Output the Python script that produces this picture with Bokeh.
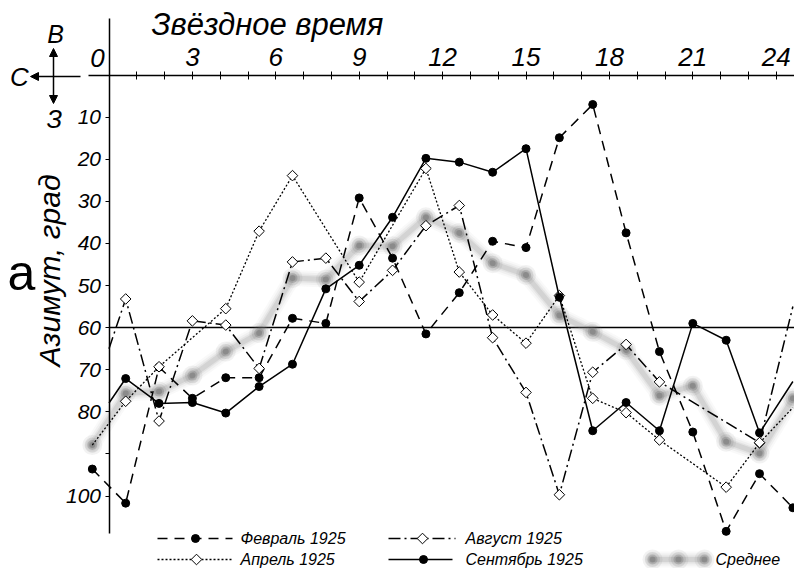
import numpy as np
from bokeh.plotting import figure
from bokeh.models import Range1d, LinearAxis, FixedTicker, Arrow, NormalHead
from bokeh.core.properties import value
from bokeh.embed import file_html
from bokeh.resources import INLINE

# ---------------- data ----------------
TIME = [-0.6, 0.6, 1.8, 3.0, 4.2, 5.4, 6.6, 7.8, 9.0, 10.2, 11.4, 12.6,
        13.8, 15.0, 16.2, 17.4, 18.6, 19.8, 21.0, 22.2, 23.4, 24.6]

FEB_T = TIME
FEB_AZ = [93.6, 101.7, 69.4, 76.8, 71.9, 71.9, 57.8, 59.0, 29.2, 43.5, 61.5,
          51.7, 39.5, 41.0, 14.9, 7.0, 37.5, 65.7, 84.8, 108.4, 94.7, 102.8]

APR_T = [-0.6, 0.6, 1.8, 4.2, 5.4, 6.6, 9.0, 11.4, 12.6, 13.8, 15.0, 16.2,
         17.4, 18.6, 19.8, 22.2, 23.4, 24.6]
APR_AZ = [87.9, 77.5, 69.3, 55.5, 37.1, 23.9, 49.2, 22.2, 46.8, 57.0, 63.7,
          52.4, 76.8, 80.2, 86.7, 97.9, 87.4, 79.0]

AUG_T = [0.0, 0.6, 1.8, 3.0, 4.2, 5.4, 6.6, 7.8, 9.0, 10.2, 11.4, 12.6, 13.8,
         15.0, 16.2, 17.4, 18.6, 19.8, 23.4, 24.6]
AUG_AZ = [65.0, 53.2, 82.2, 58.4, 59.4, 69.7, 44.4, 43.5, 53.8, 46.4, 35.8,
          31.0, 62.4, 75.4, 99.7, 70.6, 64.0, 72.9, 87.3, 55.0]

SEP_T = [0.0, 0.6, 1.8, 3.0, 4.2, 5.4, 6.6, 7.8, 9.0, 10.2, 11.4, 12.6, 13.8,
         15.0, 16.2, 17.4, 18.6, 19.8, 21.0, 22.2, 23.4, 24.6]
SEP_AZ = [77.9, 72.1, 78.0, 77.8, 80.3, 74.0, 68.7, 50.8, 45.2, 33.8, 19.8,
          20.7, 23.1, 17.5, 52.8, 84.5, 77.8, 84.5, 59.0, 63.0, 85.0, 72.8]

AVG_T = TIME
AVG_AZ = [87.9, 75.6, 75.2, 71.4, 65.7, 61.3, 48.2, 48.6, 40.5, 40.7, 33.8,
          37.5, 44.7, 47.5, 57.1, 61.0, 65.3, 76.2, 73.8, 87.1, 89.9, 76.8]

X_MAJOR = [3, 6, 9, 12, 15, 18, 21, 24]
X_MINOR = [1, 2, 4, 5, 7, 8, 10, 11, 13, 14, 16, 17, 19, 20, 22, 23]
X_ZERO_LABEL = "0"
Y_LABELED = [10, 20, 30, 40, 50, 60, 70, 80, 100]
Y_UNLABELED = [90]
REF_AZ = 60

X_TITLE = "Звёздное время"
Y_TITLE = "Азимут, град"
PANEL_LETTER = "а"
COMPASS = ["С", "В", "З"]
NAMES = ["Февраль 1925", "Август 1925", "Апрель 1925", "Сентябрь 1925", "Среднее"]

# ---------------- layout helpers ----------------
W, H = 794, 568
X0_PX, T_PX = 108.5, 27.8      # px of t=0, px per hour
Y0_PX, A_PX = 74.5, 4.21       # px of az=0, px per degree
FONT = "Liberation Sans"


def tx(px):
    return (px - X0_PX) / T_PX


def ay(py):
    return (py - Y0_PX) / A_PX


p = figure(width=W, height=H,
           x_range=Range1d(tx(0), tx(W)),
           y_range=Range1d(ay(H), ay(0)),
           output_backend="svg", toolbar_location=None,
           x_axis_type=None, y_axis_type=None, min_border=0)
p.outline_line_color = None
p.background_fill_color = "white"

# ---------------- axes ----------------
xa = LinearAxis(fixed_location=0,
                ticker=FixedTicker(ticks=X_MAJOR, minor_ticks=X_MINOR),
                bounds=(tx(88), tx(800)))
xa.axis_line_width = 1.5
xa.major_tick_in = 4
xa.major_tick_out = 4
xa.minor_tick_in = 4
xa.minor_tick_out = 4
xa.major_tick_line_width = 1
xa.minor_tick_line_width = 1
xa.major_label_text_font = FONT
xa.major_label_text_font_size = "26px"
xa.major_label_text_font_style = "italic"
xa.major_label_text_color = "black"
xa.major_label_standoff = 5
p.add_layout(xa, "above")

ya = LinearAxis(fixed_location=0,
                ticker=FixedTicker(ticks=Y_LABELED, minor_ticks=Y_UNLABELED),
                bounds=(ay(18), ay(533)))
ya.axis_line_width = 1.5
ya.major_tick_in = 0
ya.major_tick_out = 4
ya.minor_tick_in = 0
ya.minor_tick_out = 4
ya.major_tick_line_width = 1
ya.minor_tick_line_width = 1
ya.major_label_text_font = FONT
ya.major_label_text_font_size = "21px"
ya.major_label_text_font_style = "italic"
ya.major_label_text_color = "black"
ya.major_label_standoff = 4
p.add_layout(ya, "left")

# reference line at 60
p.segment(x0=[0], y0=[REF_AZ], x1=[tx(800)], y1=[REF_AZ], line_color="black", line_width=1.5)


# ---------------- series ----------------
def avg_style(xs, ys):
    for w, a in [(16, 0.05), (12, 0.08), (8, 0.12), (5, 0.18)]:
        p.line(xs, ys, line_color="#8a8a8a", line_width=w, line_alpha=a,
               line_join="round", line_cap="round")
    for s, a in [(20, 0.08), (15, 0.14), (10, 0.25), (6, 0.3)]:
        p.scatter(xs, ys, size=s, marker="circle", fill_color="#5a5a5a",
                  fill_alpha=a, line_color=None)


def dots(xs, ys):
    p.scatter(xs, ys, marker="circle", size=8, fill_color="black", line_color="black")


def diamonds(xs, ys):
    p.scatter(xs, ys, marker="square", angle=np.pi / 4, size=7.5,
              fill_color="white", line_color="black", line_width=1)


avg_style(AVG_T, AVG_AZ)

DASH_FEB = "10 7"
DASH_AUG = "12 4 2 4"
DASH_APR = "2 2"

p.line(FEB_T, FEB_AZ, line_color="black", line_width=1.5, line_dash=DASH_FEB)
dots(FEB_T, FEB_AZ)

p.line(APR_T, APR_AZ, line_color="black", line_width=1.3, line_dash=DASH_APR)
diamonds(APR_T[1:-1], APR_AZ[1:-1])

p.line(AUG_T, AUG_AZ, line_color="black", line_width=1.5, line_dash=DASH_AUG)
diamonds(AUG_T[1:-1], AUG_AZ[1:-1])

p.line(SEP_T, SEP_AZ, line_color="black", line_width=1.5)
dots(SEP_T[1:-1], SEP_AZ[1:-1])


# ---------------- texts ----------------
def txt(x_px, y_px, s, size, align="left", baseline="middle", angle=0.0, style="italic"):
    p.text(x=[tx(x_px)], y=[ay(y_px)], text=[s], text_font=value(FONT),
           text_font_size=f"{size}px", text_font_style=style, text_align=align,
           text_baseline=baseline, angle=angle, text_color="black")


txt(151, 24, X_TITLE, 31)
txt(97, 57, X_ZERO_LABEL, 26, align="center")
txt(49, 270, Y_TITLE, 30, align="center", angle=np.pi / 2)
txt(21, 272, PANEL_LETTER, 50, align="center", style="normal")
txt(19, 76, COMPASS[0], 26, align="center")
txt(55, 33, COMPASS[1], 25, align="center")
txt(54, 118, COMPASS[2], 25, align="center")

# compass arrows
p.add_layout(Arrow(end=NormalHead(size=8, fill_color="black", line_color="black"),
                   x_start=tx(80), y_start=ay(76), x_end=tx(30), y_end=ay(76),
                   line_width=1.5))
p.add_layout(Arrow(start=NormalHead(size=8, fill_color="black", line_color="black"),
                   end=NormalHead(size=8, fill_color="black", line_color="black"),
                   x_start=tx(53), y_start=ay(103), x_end=tx(53), y_end=ay(48),
                   line_width=1.5))

# ---------------- legend ----------------
R1, R2 = 538, 559


def leg_line(x0, x1, y, dash=None, width=1.5):
    kw = dict(line_color="black", line_width=width)
    if dash:
        kw["line_dash"] = dash
    p.line([tx(x0), tx(x1)], [ay(y), ay(y)], **kw)


leg_line(157, 232, R1, DASH_FEB)
dots([tx(195)], [ay(R1)])
txt(240, R1, NAMES[0], 16)

leg_line(388, 455, R1, DASH_AUG)
diamonds([tx(422)], [ay(R1)])
txt(465, R1, NAMES[1], 16)

leg_line(157, 232, R2, DASH_APR, 1.3)
diamonds([tx(196)], [ay(R2)])
txt(240, R2, NAMES[2], 16)

leg_line(388, 452, R2)
dots([tx(423)], [ay(R2)])
txt(465, R2, NAMES[3], 16)

avg_style([tx(652), tx(678), tx(704)], [ay(R2)] * 3)
txt(715, R2, NAMES[4], 16)

open("out.html", "w").write(file_html(p, INLINE))
